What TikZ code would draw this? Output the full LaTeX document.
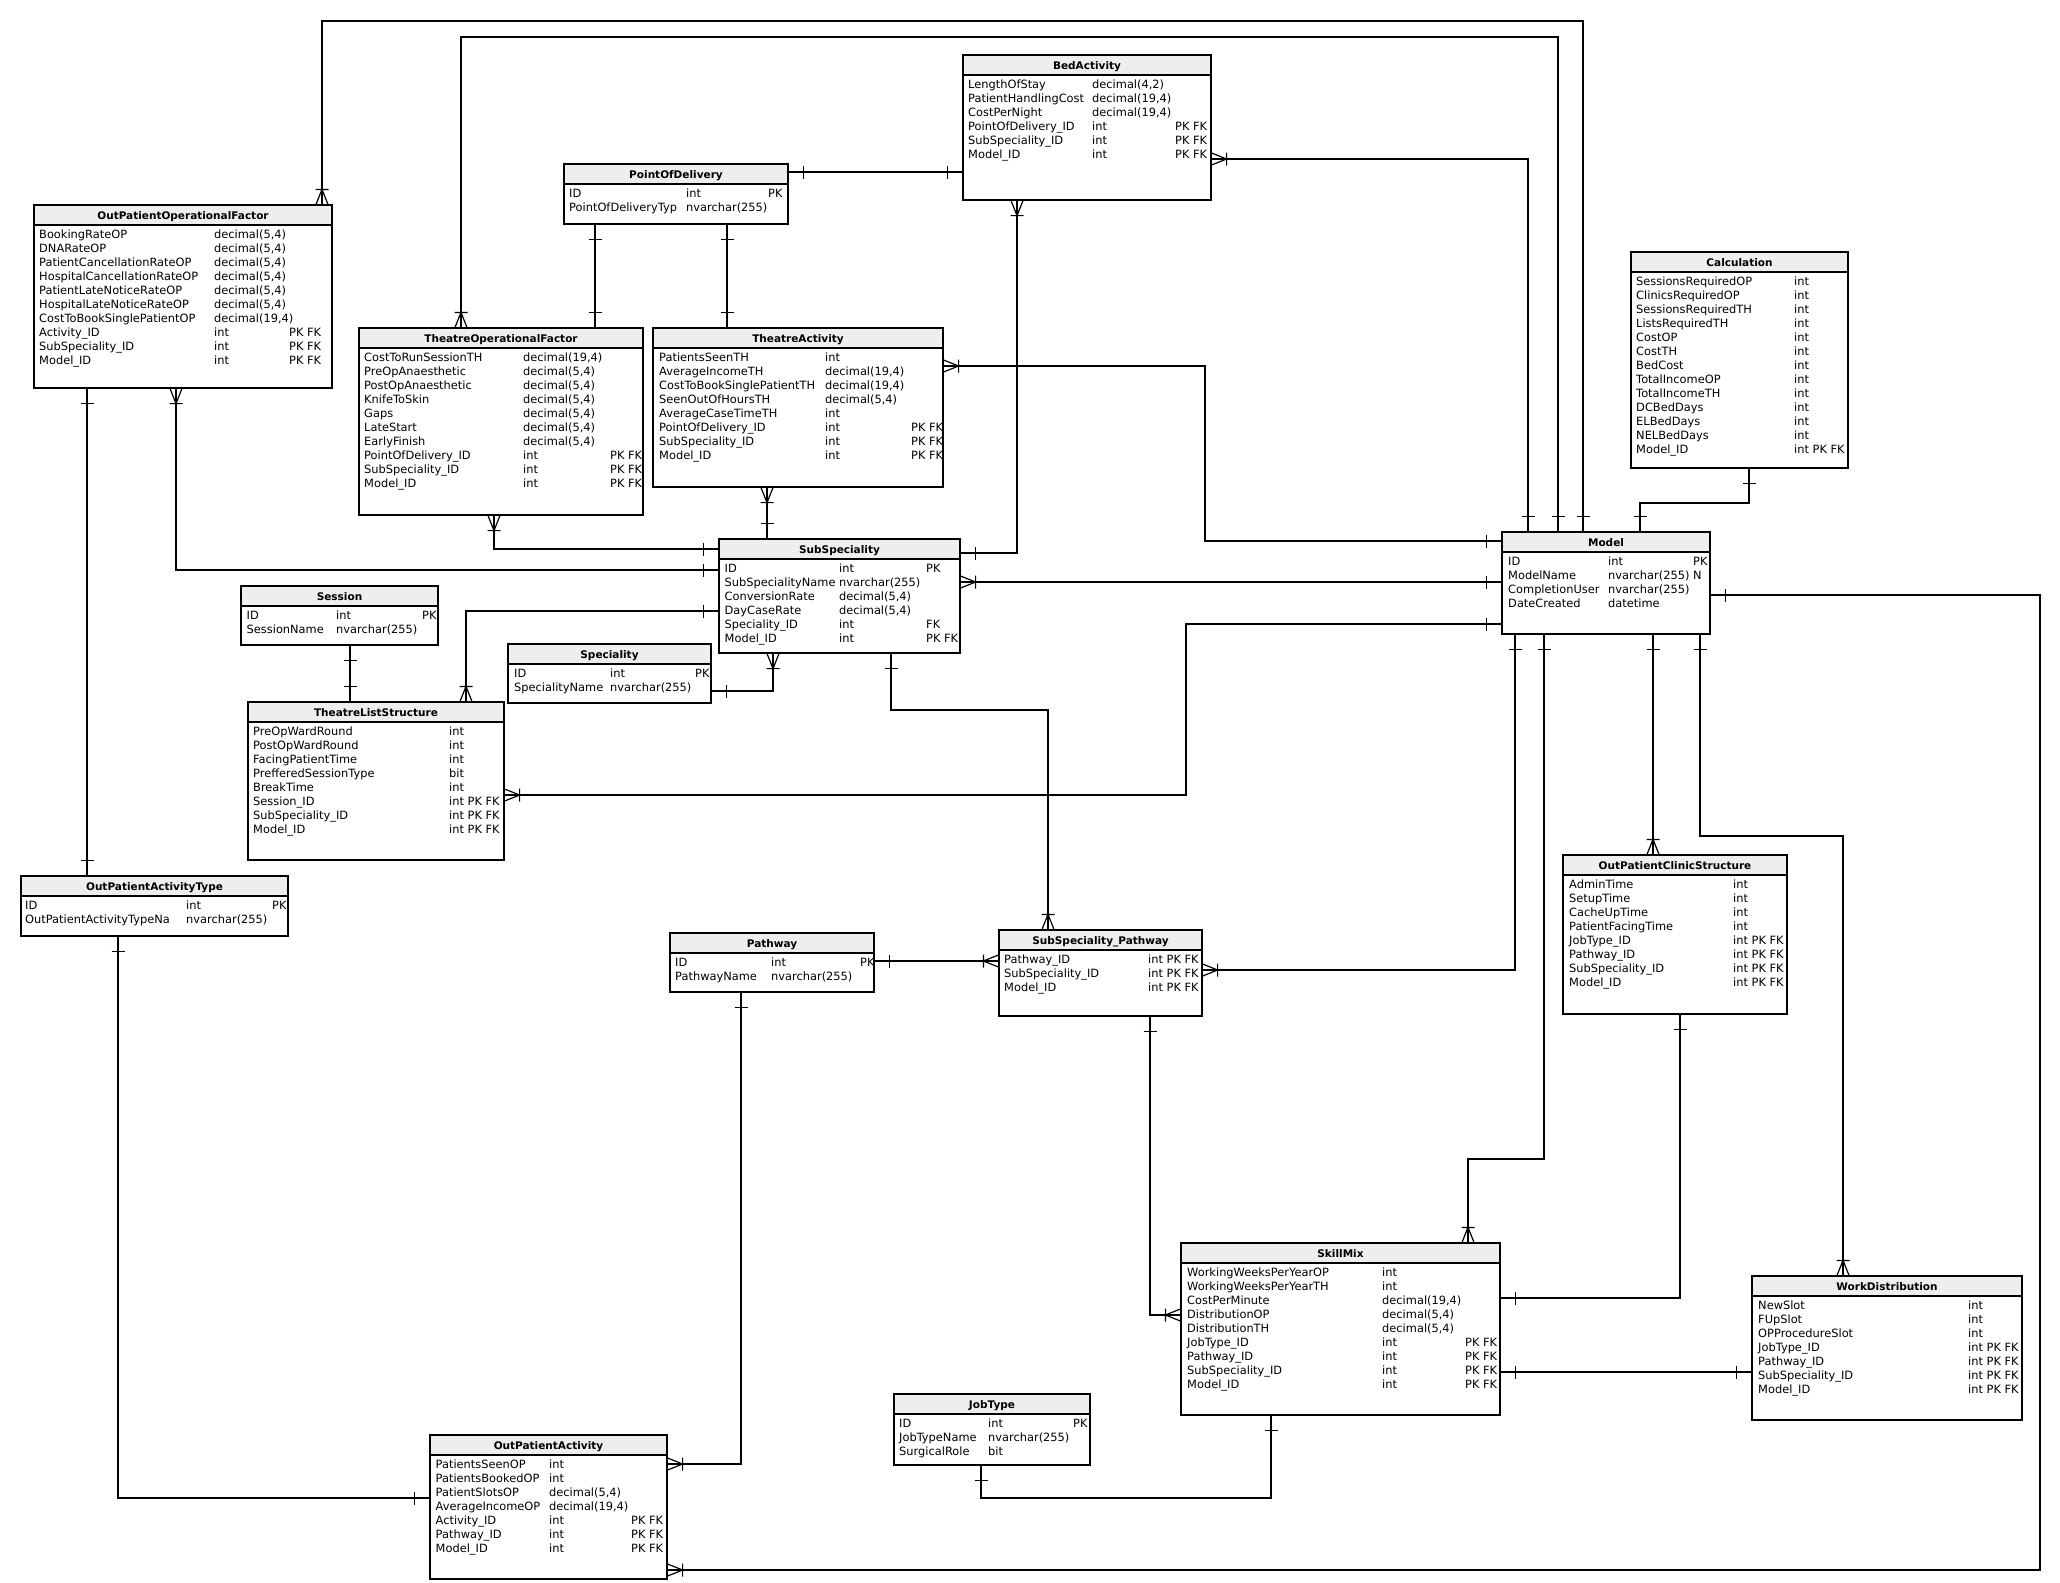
\documentclass[tikz,border=0pt]{standalone}
\usepackage{fontspec}
\setmainfont{DejaVu Sans}
\usetikzlibrary{fit,decorations.markings}
\definecolor{hdrgray}{RGB}{238,238,238}
\tikzset{
 ln/.style={line width=1.2pt,black},
 hdr/.style={fill=hdrgray},
 tbox/.style={draw=black,line width=1.2pt,inner sep=0pt},
 cell/.style={anchor=base west,inner sep=0pt,font=\fontsize{11.4}{14}\selectfont},
 ttl/.style={anchor=base,inner sep=0pt,font=\fontsize{10.5}{12}\selectfont\bfseries},
 mk/.style={line width=1.2pt,black},
 conn/.style={line width=1.2pt,black},
 onestart/.style={postaction={decorate,decoration={markings,mark=at position 15pt with {\draw[mk] (0pt,-6.5pt)--(0pt,6.5pt);}}}},
 oneend/.style={postaction={decorate,decoration={markings,mark=at position -15pt with {\draw[mk] (0pt,-6.5pt)--(0pt,6.5pt);}}}},
 manyend/.style={postaction={decorate,decoration={markings,mark=at position -15pt with {\draw[mk] (0pt,-6.5pt)--(0pt,6.5pt) (0pt,0pt)--(15pt,6pt) (0pt,0pt)--(15pt,-6pt);}}}},
}
% table: name, left, top, right, bottom, title, col1, col2, col3
\newcommand\ertable[9]{%
  \def\tn{#1}\def\ty{#3}\def\ca{#7}\def\cb{#8}\def\cc{#9}%
  \fill[hdr] (#2,#3) rectangle (#4,{#3+20});
  \node[tbox, fit={(#2,#3) (#4,#5)}] (#1) {};
  \draw[ln] (#2,{#3+20}) -- (#4,{#3+20});
  \node[ttl] (#1 title) at ({(#2+#4)/2},{#3+14}) {#6};
}
\newcommand\errow[4]{%
  \node[cell] (\tn\space n#1) at (\ca,{\ty+19+14*#1}) {#2};
  \node[cell] (\tn\space y#1) at (\cb,{\ty+19+14*#1}) {#3};
  \if\relax\detokenize{#4}\relax\else
  \node[cell] (\tn\space k#1) at (\cc,{\ty+19+14*#1}) {#4};\fi
}
\begin{document}
\begin{tikzpicture}[x=1pt,y=-1pt]
\fill[white] (0,0) rectangle (2060,1582);
\useasboundingbox (0,0) rectangle (2060,1582);

\ertable{bed}{963}{55}{1211}{200}{BedActivity}{968}{1092}{1175}
\errow{1}{LengthOfStay}{decimal(4,2)}{}
\errow{2}{PatientHandlingCost}{decimal(19,4)}{}
\errow{3}{CostPerNight}{decimal(19,4)}{}
\errow{4}{PointOfDelivery\_ID}{int}{PK FK}
\errow{5}{SubSpeciality\_ID}{int}{PK FK}
\errow{6}{Model\_ID}{int}{PK FK}

\ertable{pod}{564}{164}{788}{224}{PointOfDelivery}{569}{686}{768}
\errow{1}{ID}{int}{PK}
\errow{2}{PointOfDeliveryTyp}{nvarchar(255)}{}

\ertable{opof}{34}{205}{332}{388}{OutPatientOperationalFactor}{39}{214}{289}
\errow{1}{BookingRateOP}{decimal(5,4)}{}
\errow{2}{DNARateOP}{decimal(5,4)}{}
\errow{3}{PatientCancellationRateOP}{decimal(5,4)}{}
\errow{4}{HospitalCancellationRateOP}{decimal(5,4)}{}
\errow{5}{PatientLateNoticeRateOP}{decimal(5,4)}{}
\errow{6}{HospitalLateNoticeRateOP}{decimal(5,4)}{}
\errow{7}{CostToBookSinglePatientOP}{decimal(19,4)}{}
\errow{8}{Activity\_ID}{int}{PK FK}
\errow{9}{SubSpeciality\_ID}{int}{PK FK}
\errow{10}{Model\_ID}{int}{PK FK}

\ertable{tof}{359}{328}{643}{515}{TheatreOperationalFactor}{364}{523}{610}
\errow{1}{CostToRunSessionTH}{decimal(19,4)}{}
\errow{2}{PreOpAnaesthetic}{decimal(5,4)}{}
\errow{3}{PostOpAnaesthetic}{decimal(5,4)}{}
\errow{4}{KnifeToSkin}{decimal(5,4)}{}
\errow{5}{Gaps}{decimal(5,4)}{}
\errow{6}{LateStart}{decimal(5,4)}{}
\errow{7}{EarlyFinish}{decimal(5,4)}{}
\errow{8}{PointOfDelivery\_ID}{int}{PK FK}
\errow{9}{SubSpeciality\_ID}{int}{PK FK}
\errow{10}{Model\_ID}{int}{PK FK}

\ertable{ta}{653}{328}{943}{487}{TheatreActivity}{659}{825}{911}
\errow{1}{PatientsSeenTH}{int}{}
\errow{2}{AverageIncomeTH}{decimal(19,4)}{}
\errow{3}{CostToBookSinglePatientTH}{decimal(19,4)}{}
\errow{4}{SeenOutOfHoursTH}{decimal(5,4)}{}
\errow{5}{AverageCaseTimeTH}{int}{}
\errow{6}{PointOfDelivery\_ID}{int}{PK FK}
\errow{7}{SubSpeciality\_ID}{int}{PK FK}
\errow{8}{Model\_ID}{int}{PK FK}

\ertable{calc}{1631}{252}{1848}{468}{Calculation}{1636}{1794}{0}
\errow{1}{SessionsRequiredOP}{int}{}
\errow{2}{ClinicsRequiredOP}{int}{}
\errow{3}{SessionsRequiredTH}{int}{}
\errow{4}{ListsRequiredTH}{int}{}
\errow{5}{CostOP}{int}{}
\errow{6}{CostTH}{int}{}
\errow{7}{BedCost}{int}{}
\errow{8}{TotalIncomeOP}{int}{}
\errow{9}{TotalIncomeTH}{int}{}
\errow{10}{DCBedDays}{int}{}
\errow{11}{ELBedDays}{int}{}
\errow{12}{NELBedDays}{int}{}
\errow{13}{Model\_ID}{int PK FK}{}

\ertable{sub}{719}{539}{960}{653}{SubSpeciality}{724.5}{839}{926}
\errow{1}{ID}{int}{PK}
\errow{2}{SubSpecialityName}{nvarchar(255)}{}
\errow{3}{ConversionRate}{decimal(5,4)}{}
\errow{4}{DayCaseRate}{decimal(5,4)}{}
\errow{5}{Speciality\_ID}{int}{FK}
\errow{6}{Model\_ID}{int}{PK FK}

\ertable{model}{1502}{532}{1710}{634}{Model}{1508}{1608}{1693}
\errow{1}{ID}{int}{PK}
\errow{2}{ModelName}{nvarchar(255)}{N}
\errow{3}{CompletionUser}{nvarchar(255)}{}
\errow{4}{DateCreated}{datetime}{}

\ertable{session}{241}{586}{438}{645}{Session}{246.5}{336}{422}
\errow{1}{ID}{int}{PK}
\errow{2}{SessionName}{nvarchar(255)}{}

\ertable{spec}{508}{644}{711}{703}{Speciality}{514}{610}{695}
\errow{1}{ID}{int}{PK}
\errow{2}{SpecialityName}{nvarchar(255)}{}

\ertable{tls}{248}{702}{504}{860}{TheatreListStructure}{253}{449}{0}
\errow{1}{PreOpWardRound}{int}{}
\errow{2}{PostOpWardRound}{int}{}
\errow{3}{FacingPatientTime}{int}{}
\errow{4}{PrefferedSessionType}{bit}{}
\errow{5}{BreakTime}{int}{}
\errow{6}{Session\_ID}{int PK FK}{}
\errow{7}{SubSpeciality\_ID}{int PK FK}{}
\errow{8}{Model\_ID}{int PK FK}{}

\ertable{opat}{21}{876}{288}{936}{OutPatientActivityType}{25}{186}{272}
\errow{1}{ID}{int}{PK}
\errow{2}{OutPatientActivityTypeNa}{nvarchar(255)}{}

\ertable{pathway}{670}{933}{874}{992}{Pathway}{675}{771}{860}
\errow{1}{ID}{int}{PK}
\errow{2}{PathwayName}{nvarchar(255)}{}

\ertable{ssp}{999}{930}{1202}{1016}{SubSpeciality\_Pathway}{1004}{1148}{0}
\errow{1}{Pathway\_ID}{int PK FK}{}
\errow{2}{SubSpeciality\_ID}{int PK FK}{}
\errow{3}{Model\_ID}{int PK FK}{}

\ertable{opcs}{1563}{855}{1787}{1014}{OutPatientClinicStructure}{1569}{1733}{0}
\errow{1}{AdminTime}{int}{}
\errow{2}{SetupTime}{int}{}
\errow{3}{CacheUpTime}{int}{}
\errow{4}{PatientFacingTime}{int}{}
\errow{5}{JobType\_ID}{int PK FK}{}
\errow{6}{Pathway\_ID}{int PK FK}{}
\errow{7}{SubSpeciality\_ID}{int PK FK}{}
\errow{8}{Model\_ID}{int PK FK}{}

\ertable{skill}{1181}{1243}{1500}{1415}{SkillMix}{1187}{1382}{1465}
\errow{1}{WorkingWeeksPerYearOP}{int}{}
\errow{2}{WorkingWeeksPerYearTH}{int}{}
\errow{3}{CostPerMinute}{decimal(19,4)}{}
\errow{4}{DistributionOP}{decimal(5,4)}{}
\errow{5}{DistributionTH}{decimal(5,4)}{}
\errow{6}{JobType\_ID}{int}{PK FK}
\errow{7}{Pathway\_ID}{int}{PK FK}
\errow{8}{SubSpeciality\_ID}{int}{PK FK}
\errow{9}{Model\_ID}{int}{PK FK}

\ertable{work}{1752}{1276}{2022}{1420}{WorkDistribution}{1758}{1968}{0}
\errow{1}{NewSlot}{int}{}
\errow{2}{FUpSlot}{int}{}
\errow{3}{OPProcedureSlot}{int}{}
\errow{4}{JobType\_ID}{int PK FK}{}
\errow{5}{Pathway\_ID}{int PK FK}{}
\errow{6}{SubSpeciality\_ID}{int PK FK}{}
\errow{7}{Model\_ID}{int PK FK}{}

\ertable{job}{894}{1394}{1090}{1465}{JobType}{899}{988}{1073}
\errow{1}{ID}{int}{PK}
\errow{2}{JobTypeName}{nvarchar(255)}{}
\errow{3}{SurgicalRole}{bit}{}

\ertable{opa}{430}{1435}{667}{1579}{OutPatientActivity}{435.5}{549}{631}
\errow{1}{PatientsSeenOP}{int}{}
\errow{2}{PatientsBookedOP}{int}{}
\errow{3}{PatientSlotsOP}{decimal(5,4)}{}
\errow{4}{AverageIncomeOP}{decimal(19,4)}{}
\errow{5}{Activity\_ID}{int}{PK FK}
\errow{6}{Pathway\_ID}{int}{PK FK}
\errow{7}{Model\_ID}{int}{PK FK}

% connectors
\draw[conn,onestart,oneend] (pod.east |- 0,172) -- (bed.west |- 0,172);
\draw[conn,onestart,manyend] (sub.east |- 0,553) -| (1017,0 |- bed.south);
\draw[conn,onestart,manyend] (1528,0 |- model.north) |- (bed.east |- 0,159);
\draw[conn,onestart,manyend] (1558,0 |- model.north) -- (1558,37) -| (461,0 |- tof.north);
\draw[conn,onestart,manyend] (1583,0 |- model.north) -- (1583,21) -| (322,0 |- opof.north);
\draw[conn,onestart,oneend] (1640,0 |- model.north) |- (1749,503) -- (1749,0 |- calc.south);
\draw[conn,onestart,manyend] (model.west |- 0,541) -| (1205,366) -- (ta.east |- 0,366);
\draw[conn,onestart,manyend] (model.west |- 0,582) -- (sub.east |- 0,582);
\draw[conn,onestart,manyend] (model.west |- 0,624) -| (1186,795) -- (tls.east |- 0,795);
\draw[conn,onestart,manyend] (model.east |- 0,595) -| (2040,1570) -- (opa.east |- 0,1570);
\draw[conn,onestart,manyend] (1515,0 |- model.south) |- (ssp.east |- 0,970);
\draw[conn,onestart,manyend] (1544,0 |- model.south) -- (1544,1159) -| (1468,0 |- skill.north);
\draw[conn,onestart,manyend] (1653,0 |- model.south) -- (1653,0 |- opcs.north);
\draw[conn,onestart,manyend] (1700,0 |- model.south) -- (1700,836) -| (1843,0 |- work.north);
\draw[conn,onestart,manyend] (767,0 |- sub.north) -- (767,0 |- ta.south);
\draw[conn,onestart,manyend] (sub.west |- 0,549) -| (494,0 |- tof.south);
\draw[conn,onestart,manyend] (sub.west |- 0,570) -| (176,0 |- opof.south);
\draw[conn,onestart,manyend] (sub.west |- 0,611) -| (466,0 |- tls.north);
\draw[conn,onestart,manyend] (spec.east |- 0,691) -| (773,0 |- sub.south);
\draw[conn,onestart,manyend] (891,0 |- sub.south) |- (1048,710) -- (1048,0 |- ssp.north);
\draw[conn,onestart,oneend] (350,0 |- session.south) -- (350,0 |- tls.north);
\draw[conn,onestart,oneend] (87,0 |- opof.south) -- (87,0 |- opat.north);
\draw[conn,onestart,oneend] (118,0 |- opat.south) |- (opa.west |- 0,1498);
\draw[conn,onestart,manyend] (741,0 |- pathway.south) |- (opa.east |- 0,1464);
\draw[conn,onestart,manyend] (pathway.east |- 0,961) -- (ssp.west |- 0,961);
\draw[conn,onestart,manyend] (1150,0 |- ssp.south) |- (skill.west |- 0,1315);
\draw[conn,onestart,oneend] (1680,0 |- opcs.south) |- (skill.east |- 0,1298);
\draw[conn,onestart,oneend] (skill.east |- 0,1372) -- (work.west |- 0,1372);
\draw[conn,onestart,oneend] (981,0 |- job.south) |- (1271,1498) -- (1271,0 |- skill.south);
\draw[conn,onestart,oneend] (595,0 |- pod.south) -- (595,0 |- tof.north);
\draw[conn,onestart,oneend] (727,0 |- pod.south) -- (727,0 |- ta.north);
\end{tikzpicture}
\end{document}
